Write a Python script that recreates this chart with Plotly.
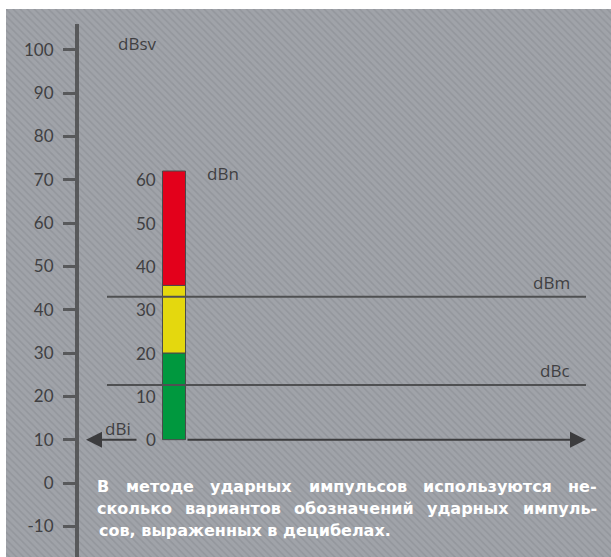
import json
import plotly.graph_objects as go

# ---------------- data ----------------
DBSV_TICKS = [-10, 0, 10, 20, 30, 40, 50, 60, 70, 80, 90, 100]   # left dBsv scale
DBI_LEVEL = 10          # dBi: start of the dBn scale on the dBsv scale
DBN_TICKS = [0, 10, 20, 30, 40, 50, 60]                           # inner dBn scale
ZONE_NAMES = ["green", "yellow", "red"]
ZONE_BOTTOM = [0, 20, 35.6]     # dBn
ZONE_TOP = [20, 35.6, 62]       # dBn
ZONE_COLORS = ["#00983e", "#e4d80e", "#e3001b"]
DBM_LEVEL = 43.0        # dBsv
DBC_LEVEL = 22.6        # dBsv
TEXT_LINES = [
    ["В", "методе", "ударных", "импульсов", "используются", "не-"],
    ["сколько", "вариантов", "обозначений", "ударных", "импуль-"],
    ["сов, выраженных в децибелах."],
]

# ---------------- layout constants ----------------
W, H = 611, 557
Y_TOP_PX, PX_PER_UNIT, Y0_PX = 24, 4.333, 483
V_TOP = (Y0_PX - Y_TOP_PX) / PX_PER_UNIT
V_BOT = (Y0_PX - H) / PX_PER_UNIT
AXIS_X = 77
BAR_X, BAR_W = 174, 23
LINE_X0, LINE_X1 = 107, 586
TEXT_LEFT, TEXT_RIGHT = 97, 597
WORD_CX = [[105, 160, 247.5, 352.5, 485, 582], [139, 237.5, 341, 440.5, 545], [0]]
LINE_Y_PX = [486, 508, 530]
AX_COLOR = "#58595b"
TXT_COLOR = "#404042"
NUM_FONT = "Lato"
LAB_FONT = "Open Sans"

def py(ypx):
    return 1 - ypx / H

fig = go.Figure()

# striped background
fig.add_trace(go.Bar(x=[0], y=[1], width=[1], xaxis="x", yaxis="y",
                     marker=dict(color="#9c9fa5", line=dict(width=0),
                                 pattern=dict(shape="\\", fgcolor="#93969c", bgcolor="#a0a3a9",
                                              size=5, solidity=0.3, fillmode="replace")),
                     hoverinfo="skip", showlegend=False))

# stacked dBn bar
for name, b, t, c in zip(ZONE_NAMES, ZONE_BOTTOM, ZONE_TOP, ZONE_COLORS):
    fig.add_trace(go.Bar(x=[BAR_X], y=[t - b], base=[DBI_LEVEL + b], width=[BAR_W],
                         xaxis="x2", yaxis="y2", name=name,
                         marker=dict(color=c, line=dict(color="#4a4a4a", width=1)),
                         showlegend=False, hoverinfo="skip"))

# dBm / dBc lines
for lvl in [DBM_LEVEL, DBC_LEVEL]:
    fig.add_trace(go.Scatter(x=[LINE_X0, LINE_X1], y=[lvl, lvl], mode="lines",
                             xaxis="x2", yaxis="y2", hoverinfo="skip",
                             line=dict(color="#4f5052", width=2), showlegend=False))

ann = []
# inner dBn scale labels
for v in DBN_TICKS:
    ann.append(dict(x=158, y=DBI_LEVEL + v, xref="x2", yref="y2", text=str(v),
                    showarrow=False, xanchor="right", yanchor="middle",
                    font=dict(family=NUM_FONT, size=17, color=TXT_COLOR)))
# labels
lab_font = dict(family=LAB_FONT, size=17, color=TXT_COLOR)
ann += [
    dict(x=116, y=py(43), xref="x2", yref="paper", text="dBsv", showarrow=False,
         xanchor="left", yanchor="middle", font=lab_font),
    dict(x=205, y=py(174), xref="x2", yref="paper", text="dBn", showarrow=False,
         xanchor="left", yanchor="middle", font=lab_font),
    dict(x=103, y=py(428), xref="x2", yref="paper", text="dBi", showarrow=False,
         xanchor="left", yanchor="middle", font=lab_font),
    dict(x=572, y=DBM_LEVEL, xref="x2", yref="y2", text="dBm", showarrow=False,
         xanchor="right", yanchor="bottom", yshift=1, font=lab_font),
    dict(x=572, y=DBC_LEVEL, xref="x2", yref="y2", text="dBc", showarrow=False,
         xanchor="right", yanchor="bottom", yshift=1, font=lab_font),
]
# arrows
ann.append(dict(x=586, y=DBI_LEVEL, ax=186, ay=DBI_LEVEL, xref="x2", yref="y2",
                axref="x2", ayref="y2", text="", showarrow=True, arrowhead=2,
                arrowsize=1.6, arrowwidth=2, arrowcolor="#3c3c3e"))
ann.append(dict(x=86, y=DBI_LEVEL, ax=138, ay=DBI_LEVEL, xref="x2", yref="y2",
                axref="x2", ayref="y2", text="", showarrow=True, arrowhead=2,
                arrowsize=1.6, arrowwidth=2, arrowcolor="#3c3c3e"))
# body text (word by word; justified in the browser from measured word widths)
body_font = dict(family="DejaVu Sans", size=16, color="white", weight="bold")
groups = []
for li, (words, cxs, ypx) in enumerate(zip(TEXT_LINES, WORD_CX, LINE_Y_PX)):
    n = len(words)
    idx = []
    for i, (w, cx) in enumerate(zip(words, cxs)):
        if i == 0:
            x, anchor = TEXT_LEFT, "left"
        elif i == n - 1:
            x, anchor = TEXT_RIGHT, "right"
        else:
            x, anchor = cx, "center"
        idx.append(len(ann))
        ann.append(dict(x=x, y=py(ypx), xref="x2", yref="paper", text=w, showarrow=False,
                        xanchor=anchor, yanchor="middle", font=body_font))
    if li < len(TEXT_LINES) - 1:
        groups.append(idx)

fig.update_layout(
    width=W, height=H, autosize=False,
    margin=dict(l=0, r=0, t=0, b=0, pad=0),
    paper_bgcolor="white", plot_bgcolor="rgba(0,0,0,0)",
    barmode="overlay", bargap=0, hovermode=False,
    xaxis=dict(domain=[6 / W, 1], range=[-0.5, 0.5], visible=False, fixedrange=True),
    yaxis=dict(domain=[0, 1 - 9 / H], range=[0, 1], visible=False, fixedrange=True),
    xaxis2=dict(domain=[0, 1], range=[0, W], visible=False, anchor="y2"),
    yaxis2=dict(domain=[0, 1 - Y_TOP_PX / H], range=[V_BOT, V_TOP], anchor="free",
                position=AXIS_X / W, showgrid=False, zeroline=False,
                showline=True, linecolor=AX_COLOR, linewidth=4,
                ticks="outside", ticklen=12, tickwidth=3, tickcolor=AX_COLOR,
                tickvals=DBSV_TICKS, ticktext=[str(v) for v in DBSV_TICKS],
                ticklabelstandoff=6,
                tickfont=dict(family=NUM_FONT, size=17, color=TXT_COLOR)),
    annotations=ann,
)

post = """
document.body.style.margin='0';document.body.style.overflow='hidden';
var gd=document.getElementById('{plot_id}');
var groups=GROUPS; var L=LEFT, R=RIGHT; var upd={};
try {
  groups.forEach(function(idx){
    var ws=idx.map(function(k){
      var el=gd.querySelector('.annotation[data-index="'+k+'"] .annotation-text');
      return el.getBBox().width;});
    var sum=ws.reduce(function(a,b){return a+b;},0);
    var gap=(R-L-sum)/(idx.length-1); var x=L;
    idx.forEach(function(k,i){upd['annotations['+k+'].x']=x-2;
      upd['annotations['+k+'].xanchor']='left'; x+=ws[i]+gap;});
  });
  Plotly.relayout(gd, upd);
} catch(e) {}
""".replace("GROUPS", json.dumps(groups)).replace("LEFT", str(TEXT_LEFT)).replace("RIGHT", str(TEXT_RIGHT))

fig.write_html("out.html", config={"displayModeBar": False, "staticPlot": True},
               post_script=post)
